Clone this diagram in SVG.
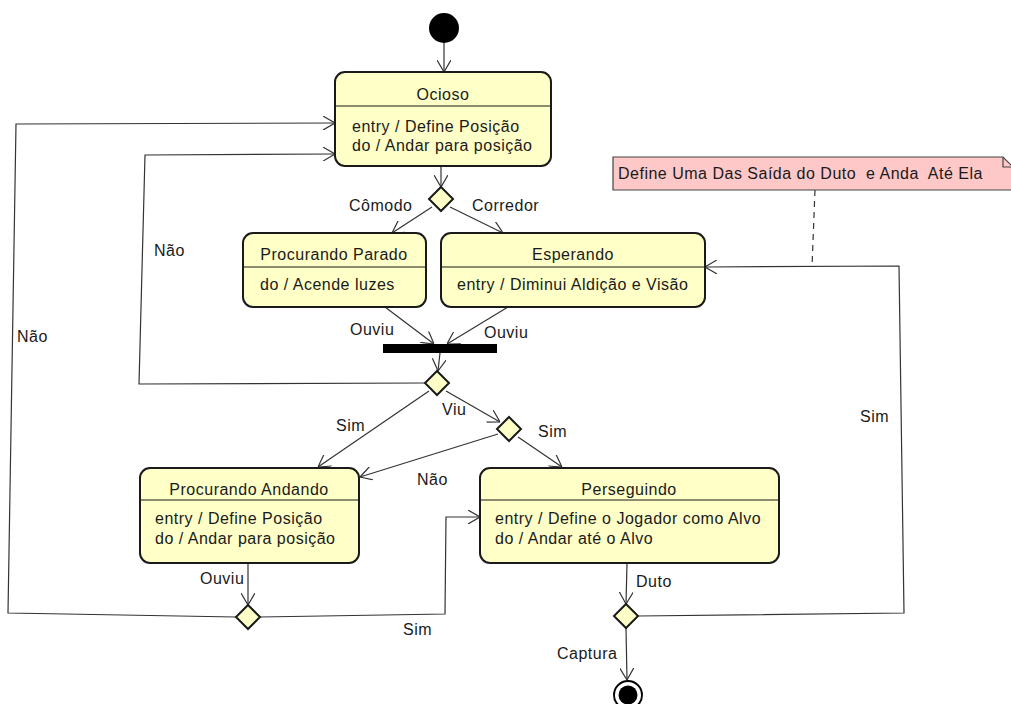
<svg xmlns="http://www.w3.org/2000/svg" width="1011" height="704" viewBox="0 0 1011 704">
  <defs>
    <style>
      text { font-family: "Liberation Sans", Arial, sans-serif; font-size: 16px; letter-spacing: 0.5px; fill: #1a1a1a; }
      .state { fill: #FFFFC8; stroke: #1a1a1a; stroke-width: 2; }
      .div { stroke: #1a1a1a; stroke-width: 1.2; }
      .dec { fill: #FFFFC8; stroke: #1a1a1a; stroke-width: 2; }
      .edge { fill: none; stroke: #333; stroke-width: 1.2; }
      .mid { text-anchor: middle; }
      .note { fill: #FFC8C8; stroke: #444; stroke-width: 1.2; }
      .pre { white-space: pre; }
    </style>
    <marker id="arr" viewBox="0 0 12 14" refX="12" refY="7" markerWidth="12" markerHeight="14" markerUnits="userSpaceOnUse" orient="auto">
      <path d="M0,0 L12,7 L0,14" fill="none" stroke="#333" stroke-width="1.2"/>
    </marker>
  </defs>

  <!-- transitions -->
  <g id="connectors">
    <line class="edge" x1="444" y1="43" x2="444" y2="72" marker-end="url(#arr)"/>
    <line class="edge" x1="441" y1="166" x2="441" y2="187" marker-end="url(#arr)"/>
    <line class="edge" x1="432" y1="207" x2="392" y2="233" marker-end="url(#arr)"/>
    <line class="edge" x1="450" y1="207" x2="503" y2="233" marker-end="url(#arr)"/>
    <line class="edge" x1="385" y1="307" x2="434" y2="344" marker-end="url(#arr)"/>
    <line class="edge" x1="508" y1="307" x2="447" y2="344" marker-end="url(#arr)"/>
    <line class="edge" x1="440" y1="353" x2="438" y2="371" marker-end="url(#arr)"/>
    <polyline class="edge" points="425,383 139,384 145,155 335,154" marker-end="url(#arr)"/>
    <line class="edge" x1="429" y1="391" x2="318" y2="467" marker-end="url(#arr)"/>
    <line class="edge" x1="446" y1="391" x2="500" y2="422" marker-end="url(#arr)"/>
    <line class="edge" x1="498" y1="434" x2="360" y2="477" marker-end="url(#arr)"/>
    <line class="edge" x1="518" y1="437" x2="562" y2="467" marker-end="url(#arr)"/>
    <line class="edge" x1="248" y1="563" x2="248" y2="605" marker-end="url(#arr)"/>
    <polyline class="edge" points="236,617 8,613 16,124 335,123" marker-end="url(#arr)"/>
    <polyline class="edge" points="260,617 445,614 446,517 480,517" marker-end="url(#arr)"/>
    <line class="edge" x1="627" y1="563" x2="626" y2="604" marker-end="url(#arr)"/>
    <polyline class="edge" points="638,616 904,613 899,266 705,267" marker-end="url(#arr)"/>
    <line class="edge" x1="626" y1="628" x2="627" y2="680" marker-end="url(#arr)"/>
    <line class="edge" x1="815" y1="190" x2="812" y2="267" stroke-dasharray="6,5"/>
  </g>

  <!-- transition labels -->
  <g id="labels">
    <text x="349" y="211">Cômodo</text>
    <text x="472" y="211">Corredor</text>
    <text x="154" y="256">Não</text>
    <text x="17" y="342">Não</text>
    <text x="350" y="335">Ouviu</text>
    <text x="484" y="338">Ouviu</text>
    <text x="442" y="415">Viu</text>
    <text x="336" y="431">Sim</text>
    <text x="538" y="437">Sim</text>
    <text x="417" y="485">Não</text>
    <text x="200" y="584">Ouviu</text>
    <text x="403" y="635">Sim</text>
    <text x="636" y="587">Duto</text>
    <text x="557" y="659">Captura</text>
    <text x="860" y="422">Sim</text>
  </g>

  <g id="initial">
    <circle cx="444" cy="28" r="15" fill="#000"/>
  </g>

  <g id="ocioso">
    <rect class="state" x="335" y="72" width="216" height="94" rx="10"/>
    <line class="div" x1="335" y1="106" x2="551" y2="106"/>
    <text class="mid" x="443" y="100">Ocioso</text>
    <text x="352" y="132">entry / Define Posição</text>
    <text x="352" y="151">do / Andar para posição</text>
  </g>

  <g id="decision-entrada">
    <polygon class="dec" points="441,187 453,199 441,211 429,199"/>
  </g>

  <g id="procurando-parado">
    <rect class="state" x="243" y="233" width="183" height="74" rx="10"/>
    <line class="div" x1="243" y1="267" x2="426" y2="267"/>
    <text class="mid" x="334" y="260">Procurando Parado</text>
    <text x="260" y="290">do / Acende luzes</text>
  </g>

  <g id="esperando">
    <rect class="state" x="441" y="233" width="264" height="74" rx="10"/>
    <line class="div" x1="441" y1="267" x2="705" y2="267"/>
    <text class="mid" x="573" y="260">Esperando</text>
    <text x="457" y="290">entry / Diminui Aldição e Visão</text>
  </g>

  <g id="join">
    <rect x="383" y="344" width="114" height="9" fill="#000"/>
  </g>

  <g id="decision-viu">
    <polygon class="dec" points="437,371 449,383 437,395 425,383"/>
  </g>

  <g id="decision-perseguir">
    <polygon class="dec" points="509,417 521,429 509,441 497,429"/>
  </g>

  <g id="procurando-andando">
    <rect class="state" x="140" y="468" width="219" height="95" rx="10"/>
    <line class="div" x1="140" y1="500" x2="359" y2="500"/>
    <text class="mid" x="249" y="495">Procurando Andando</text>
    <text x="155" y="524">entry / Define Posição</text>
    <text x="155" y="544">do / Andar para posição</text>
  </g>

  <g id="perseguindo">
    <rect class="state" x="480" y="468" width="299" height="95" rx="10"/>
    <line class="div" x1="480" y1="500" x2="779" y2="500"/>
    <text class="mid" x="629" y="495">Perseguindo</text>
    <text x="495" y="524">entry / Define o Jogador como Alvo</text>
    <text x="495" y="544">do / Andar até o Alvo</text>
  </g>

  <g id="decision-ouviu">
    <polygon class="dec" points="248,605 260,617 248,629 236,617"/>
  </g>

  <g id="decision-duto">
    <polygon class="dec" points="626,604 638,616 626,628 614,616"/>
  </g>

  <g id="final">
    <circle cx="628" cy="695" r="14" fill="#fff" stroke="#000" stroke-width="2"/>
    <circle cx="628" cy="695" r="9.5" fill="#000"/>
  </g>

  <g id="note">
    <path class="note" d="M613,157 H1003 L1013,167 V190 H613 Z"/>
    <path d="M1003,157 V167 H1013" fill="none" stroke="#444" stroke-width="1.2"/>
    <text class="pre" x="618" y="179">Define Uma Das Saída do Duto  e Anda  Até Ela</text>
  </g>
</svg>
